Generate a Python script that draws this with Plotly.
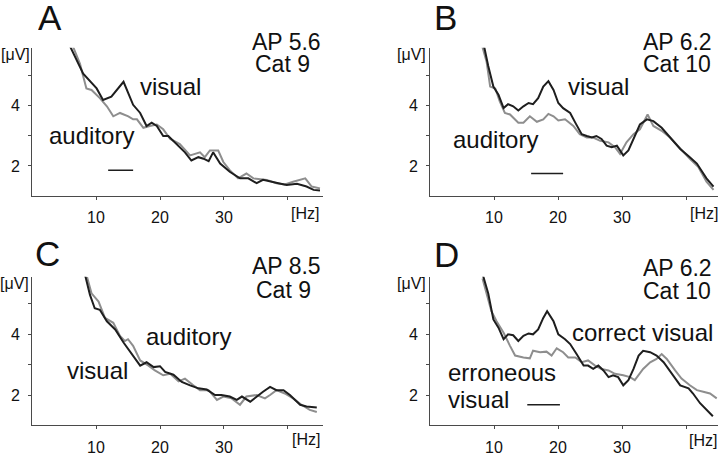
import plotly.graph_objects as go

W, H = 720, 456

# ---------------- data (frequency [Hz], amplitude [µV]) ----------------
# Panel A (AP 5.6, Cat 9)
a_vis_f = [5.9, 8.0, 10.1, 11.1, 12.4, 14.3, 15.8, 16.9, 17.9, 18.7, 19.5, 20.5, 21.3, 22.6, 23.9,
           24.9, 26.0, 26.8, 27.6, 28.3, 29.4, 30.9, 32.5, 33.8, 35.1, 36.1, 37.2, 38.5, 39.8, 41.4,
           42.9, 44.0, 45.0]
a_vis_v = [5.97, 5.05, 4.56, 4.18, 4.29, 4.78, 4.02, 3.75, 3.32, 3.43, 3.32, 2.99, 2.99, 2.72, 2.45,
           2.18, 2.29, 2.24, 2.16, 2.45, 2.08, 1.81, 1.59, 1.59, 1.43, 1.54, 1.48, 1.43, 1.37, 1.41,
           1.32, 1.21, 1.19]
a_aud_f = [6.35, 7.5, 8.5, 9.3, 10.6, 11.7, 12.7, 13.75, 15.05, 15.8, 16.4, 17.4, 18.4, 19.5, 20.5,
           21.6, 23.1, 24.7, 26.25, 27.0, 27.8, 29.1, 29.9, 30.9, 32.2, 33.5, 34.6, 35.6, 36.7, 38.2,
           39.5, 40.8, 42.7, 43.7, 45.0]
a_aud_v = [5.97, 5.37, 4.56, 4.51, 4.24, 3.97, 3.64, 3.75, 3.64, 3.54, 3.54, 3.26, 3.32, 3.37, 3.21,
           2.89, 2.72, 2.35, 2.45, 2.29, 2.51, 2.51, 2.13, 1.86, 1.59, 1.75, 1.59, 1.56, 1.54, 1.43,
           1.39, 1.48, 1.59, 1.32, 1.26]
a_bar_f = [11.9, 15.8]
a_bar_v = [1.86, 1.86]

# Panel B (AP 6.2, Cat 10)
b_vis_f = [8.4, 9.1, 9.9, 10.7, 11.5, 12.2, 13.0, 13.8, 14.6, 15.4, 16.1, 16.9, 17.7, 18.5, 19.3,
           20.05, 20.8, 21.9, 22.7, 23.7, 24.5, 25.3, 26.0, 26.8, 27.6, 28.4, 29.2, 30.2, 31.0, 31.8,
           32.8, 33.9, 34.9, 36.2, 37.5, 39.1, 40.6, 41.7, 43.2, 44.3]
b_vis_v = [6.0, 5.3, 4.62, 4.35, 3.91, 4.04, 3.97, 3.83, 3.97, 4.08, 4.04, 4.24, 4.62, 4.8, 4.51,
           4.08, 3.91, 3.75, 3.43, 3.05, 2.99, 2.94, 2.99, 2.89, 2.67, 2.62, 2.67, 2.35, 2.51, 2.89,
           3.37, 3.54, 3.48, 3.26, 2.94, 2.56, 2.29, 2.08, 1.59, 1.32]
b_aud_f = [8.1, 8.85, 9.4, 10.2, 10.9, 11.7, 12.5, 13.8, 14.6, 15.6, 16.7, 17.7, 18.5, 19.3, 20.05,
           21.1, 22.4, 23.4, 24.5, 25.5, 26.6, 27.9, 28.9, 29.7, 30.7, 31.8, 32.8, 34.0, 34.9, 36.2,
           37.5, 39.1, 40.6, 41.9, 43.2, 44.3]
b_aud_v = [6.0, 5.43, 4.62, 4.56, 4.13, 3.75, 3.7, 3.43, 3.43, 3.64, 3.46, 3.54, 3.72, 3.64, 3.5,
           3.54, 3.32, 3.05, 2.94, 2.94, 2.83, 2.78, 2.62, 2.4, 2.78, 3.05, 3.21, 3.7, 3.32, 3.16,
           2.94, 2.56, 2.24, 1.97, 1.48, 1.21]
b_bar_f = [15.8, 20.8]
b_bar_v = [1.75, 1.75]

# Panel C (AP 8.5, Cat 9)
c_vis_f = [8.3, 9.06, 9.8, 10.6, 11.7, 13.0, 14.3, 15.6, 16.9, 17.9, 19.0, 20.0, 20.8, 22.1, 23.4,
           24.7, 26.0, 27.3, 28.6, 29.6, 30.9, 32.0, 32.8, 34.1, 35.1, 36.1, 37.2, 38.2, 39.3, 40.3,
           41.9, 42.9, 44.5]
c_vis_v = [5.95, 5.3, 4.86, 4.81, 4.43, 4.16, 3.73, 3.35, 2.97, 3.08, 2.92, 2.95, 2.76, 2.67, 2.43,
           2.32, 2.22, 2.18, 2.0, 2.0, 1.95, 1.84, 1.95, 1.78, 1.95, 2.11, 2.27, 2.16, 2.16, 2.0,
           1.68, 1.62, 1.59]
c_aud_f = [8.6, 9.3, 10.4, 11.4, 12.7, 13.75, 14.5, 15.0, 15.8, 16.9, 18.2, 19.2, 20.5, 21.6, 22.9,
           23.9, 25.2, 26.25, 27.6, 28.9, 29.9, 31.2, 32.5, 33.5, 35.1, 36.4, 37.2, 38.2, 39.5, 40.8,
           42.1, 43.4, 44.5]
c_aud_v = [5.89, 5.35, 5.08, 4.54, 4.38, 3.95, 3.78, 3.84, 3.62, 3.14, 2.97, 2.81, 2.65, 2.7, 2.45,
           2.54, 2.32, 2.16, 2.16, 1.84, 1.95, 1.89, 1.68, 1.95, 2.0, 1.89, 2.0, 2.16, 2.05, 1.89,
           1.68, 1.51, 1.44]

# Panel D (AP 6.2, Cat 10)
d_cor_f = [8.2, 9.1, 9.9, 10.7, 11.5, 12.2, 13.0, 13.8, 14.6, 15.4, 16.1, 16.9, 17.7, 18.3, 19.3,
           20.05, 21.1, 21.9, 22.9, 24.0, 24.7, 25.5, 26.3, 27.1, 27.9, 28.6, 29.4, 30.2, 31.0, 31.8,
           32.6, 33.3, 34.4, 35.4, 36.5, 37.8, 39.1, 40.4, 41.1, 42.2, 43.2, 44.2]
d_cor_v = [6.0, 5.35, 4.49, 4.22, 3.84, 4.0, 3.97, 3.78, 3.95, 4.03, 4.0, 4.16, 4.54, 4.76, 4.43,
           4.0, 3.84, 3.68, 3.35, 2.97, 2.97, 2.86, 2.97, 2.81, 2.59, 2.65, 2.59, 2.32, 2.49, 2.86,
           3.3, 3.46, 3.41, 3.3, 3.08, 2.7, 2.32, 2.22, 2.05, 1.73, 1.51, 1.3]
d_err_f = [8.2, 8.85, 9.6, 10.4, 11.5, 12.5, 13.3, 14.6, 15.6, 16.1, 17.2, 18.2, 19.0, 19.8, 20.8,
           21.6, 22.7, 23.7, 24.7, 25.8, 26.8, 27.9, 28.9, 30.2, 31.25, 32.0, 33.3, 34.4, 35.4, 36.2,
           37.0, 38.3, 39.3, 40.6, 41.7, 42.7, 43.75, 44.8]
d_err_v = [5.84, 5.35, 4.76, 4.43, 4.05, 3.62, 3.3, 3.24, 3.21, 3.46, 3.41, 3.43, 3.3, 3.54, 3.41,
           3.24, 3.24, 3.08, 3.14, 2.97, 2.86, 2.81, 2.7, 2.65, 2.59, 2.49, 2.86, 3.08, 3.19, 3.35,
           3.19, 2.81, 2.54, 2.32, 2.16, 2.11, 2.05, 1.89]
d_bar_f = [15.2, 20.3]
d_bar_v = [1.68, 1.68]

x_tickvals = [10, 20, 30, 40]
x_ticktext = ["10", "20", "30", ""]
y_tickvals = [2, 3, 4, 5]
y_ticktext = ["2", "", "4", ""]

BLACK = "#1e1e1e"
GRAY = "#8e8e8e"
AXIS = "#4a4a4a"
FONT = "Liberation Sans, Arial, sans-serif"

fig = go.Figure()

def px_x(p):
    return p / W

def px_y(p):
    return 1 - p / H

# panels: (xaxis id, yaxis id, x domain px, y domain px, x range)
panels = {
    "A": ("x", "y", (32, 323), (48.6, 199.3), (0, 45.47)),
    "B": ("x2", "y2", (430, 718), (48.6, 199.3), (0, 45.0)),
    "C": ("x3", "y3", (32, 323), (281, 432), (0, 45.47)),
    "D": ("x4", "y4", (430, 718), (281, 432), (0, 45.0)),
}

def add_line(panel, f, v, color, width=2.0):
    xa, ya = panels[panel][0], panels[panel][1]
    fig.add_trace(go.Scatter(x=f, y=v, mode="lines", xaxis=xa, yaxis=ya,
                             line=dict(color=color, width=width), showlegend=False,
                             hoverinfo="skip"))

add_line("A", a_aud_f, a_aud_v, GRAY)
add_line("A", a_vis_f, a_vis_v, BLACK)
add_line("A", a_bar_f, a_bar_v, BLACK, 1.5)
add_line("B", b_aud_f, b_aud_v, GRAY)
add_line("B", b_vis_f, b_vis_v, BLACK)
add_line("B", b_bar_f, b_bar_v, BLACK, 1.5)
add_line("C", c_aud_f, c_aud_v, GRAY)
add_line("C", c_vis_f, c_vis_v, BLACK)
add_line("D", d_err_f, d_err_v, GRAY)
add_line("D", d_cor_f, d_cor_v, BLACK)
add_line("D", d_bar_f, d_bar_v, BLACK, 1.5)

layout = dict(width=W, height=H, margin=dict(l=0, r=0, t=0, b=0),
              plot_bgcolor="white", paper_bgcolor="white",
              font=dict(family=FONT, color="#111111"))

for name, (xa, ya, xd, yd, xr) in panels.items():
    xkey = "xaxis" + xa[1:]
    ykey = "yaxis" + ya[1:]
    layout[xkey] = dict(domain=[px_x(xd[0]), px_x(xd[1])], range=list(xr), anchor=ya,
                        showline=True, linecolor=AXIS, linewidth=1, ticks="outside",
                        ticklen=3, tickcolor=AXIS, tickwidth=1, showgrid=False, zeroline=False,
                        tickvals=x_tickvals, ticktext=x_ticktext, ticklabelstandoff=4,
                        tickfont=dict(size=16, family=FONT, color="#111111"))
    layout[ykey] = dict(domain=[px_y(yd[1]), px_y(yd[0])], range=[1, 5.9], anchor=xa,
                        showline=True, linecolor=AXIS, linewidth=1, ticks="outside",
                        ticklen=3, tickcolor=AXIS, tickwidth=1, showgrid=False, zeroline=False,
                        tickvals=y_tickvals, ticktext=y_ticktext, ticklabelstandoff=5,
                        tickfont=dict(size=16, family=FONT, color="#111111"))

fig.update_layout(**layout)

def ann(text, x, y, size=23, xanchor="center", height=None):
    kw = {}
    if height is not None:
        kw["height"] = height
    fig.add_annotation(text=text, x=px_x(x), y=px_y(y), xref="paper", yref="paper",
                       showarrow=False, xanchor=xanchor, yanchor="middle",
                       font=dict(size=size, family=FONT, color="#111111"), **kw)

# panel letters
ann("A", 50, 17, 35, height=30)
ann("B", 445, 17, 35, height=30)
ann("C", 47, 257, 35, height=30)
ann("D", 446, 258, 35, height=30)
# recording info
ann("AP 5.6", 286, 42, height=21)
ann("Cat 9", 282, 64, height=21)
ann("AP 6.2", 677, 42, height=21)
ann("Cat 10", 677, 64, height=21)
ann("AP 8.5", 286, 270, height=21)
ann("Cat 9", 283, 294, height=21)
ann("AP 6.2", 677, 272, height=21)
ann("Cat 10", 677, 295, height=21)
# curve labels
ann("visual", 170, 88, 24)
ann("auditory", 91, 138, 24)
ann("visual", 598, 88, 24)
ann("auditory", 495, 142, 24)
ann("auditory", 188, 342, 24)
ann("visual", 98, 376, 24)
ann("correct visual", 642, 338, 24)
ann("erroneous", 446, 378, 24, xanchor="left", height=25)
ann("visual", 446, 406, 24, xanchor="left", height=25)
# units
for (ux, uy) in [(15, 55), (411, 55), (14, 288), (411, 288)]:
    ann("[μV]", ux, uy, 16)
for (hx, hy) in [(305, 217), (704, 217), (306, 446), (703, 447)]:
    ann("[Hz]", hx, hy, 16)

fig.write_html("out.html", config={"displayModeBar": False},
               post_script="document.body.style.margin='0';document.body.style.overflow='hidden';")
